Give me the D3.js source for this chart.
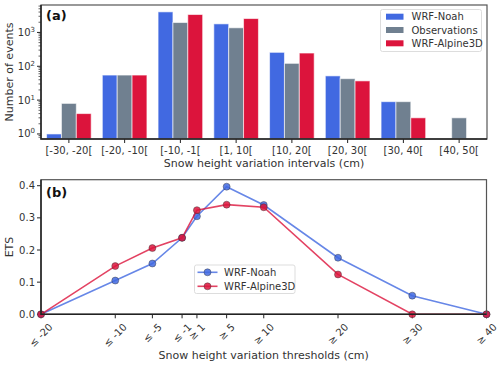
<!DOCTYPE html>
<html><head><meta charset="utf-8">
<script src="https://cdn.jsdelivr.net/npm/d3@7"></script>
<style>body{margin:0;background:#fff}svg{display:block;font-family:"DejaVu Sans",sans-serif}</style>
</head><body><svg id="c" width="500" height="365"></svg>
<script>
const intervals = ["[-30, -20[","[-20, -10[","[-10, -1[","[1, 10[","[10, 20[","[20, 30[","[30, 40[","[40, 50["];
const seriesNames = ["WRF-Noah","Observations","WRF-Alpine3D"];
const noahCounts = [1,55,4050,1790,258,52,9,0];
const obsCounts = [8,55,1960,1370,122,43,9,3];
const alpineCounts = [4,55,3380,2570,246,37,3,0];
const thresholds = [-20,-10,-5,-1,1,5,10,20,30,40];
const thresholdLabels = ["≤ -20","≤ -10","≤ -5","≤ -1","≥ 1","≥ 5","≥ 10","≥ 20","≥ 30","≥ 40"];
const noahETS = [0,0.105,0.158,0.238,0.305,0.397,0.340,0.176,0.058,0];
const alpineETS = [0,0.150,0.206,0.238,0.324,0.341,0.333,0.124,0,0];
const barColors = ["#4169e1","#708090","#dc143c"];
const lineColors = ["#4169e1","#dc143c"];
const yTicksETS = [0,0.1,0.2,0.3,0.4];

const svg = d3.select("#c");
const txt = "#333";
// ---------- Panel (a)
const A = {l:41,r:487,t:5,b:139};
const xa = d3.scaleLinear().domain([-0.5,7.5]).range([A.l,A.r]);
const ya = d3.scaleLog().domain([0.71,6460]).range([A.b,A.t]);
const ga = svg.append("g");
const allCounts=[noahCounts,obsCounts,alpineCounts];
const bw = 0.8/3;
allCounts.forEach((arr,s)=>{
  ga.selectAll(null).data(arr.map((v,i)=>({v,i}))).enter().filter(d=>d.v>0).append("rect")
    .attr("x",d=>xa(d.i-0.4+s*bw))
    .attr("width",xa(bw)-xa(0))
    .attr("y",d=>ya(d.v))
    .attr("height",d=>A.b-ya(d.v))
    .attr("fill",barColors[s]).attr("stroke","#fff").attr("stroke-opacity",0.6).attr("stroke-width",1);
});
// y axis ticks
const ga_ax = svg.append("g");
for(let e=0;e<=3;e++){
  const y=ya(Math.pow(10,e));
  ga_ax.append("line").attr("x1",A.l-4).attr("x2",A.l).attr("y1",y).attr("y2",y).attr("stroke","#222").attr("stroke-width",1);
  const t=ga_ax.append("text").attr("x",A.l-6).attr("y",y+3.5).attr("text-anchor","end").attr("font-size",10).attr("fill",txt);
  t.append("tspan").text("10");
  t.append("tspan").attr("dy",-4).attr("font-size",7).text(e);
}
for(let e=-1;e<=3;e++){
  for(let m=2;m<=9;m++){
    const v=m*Math.pow(10,e);
    if(v<0.71||v>6460) continue;
    const y=ya(v);
    ga_ax.append("line").attr("x1",A.l-2.5).attr("x2",A.l).attr("y1",y).attr("y2",y).attr("stroke","#222").attr("stroke-width",0.7);
  }
}
intervals.forEach((c,i)=>{
  const x=xa(i);
  ga_ax.append("line").attr("x1",x).attr("x2",x).attr("y1",A.b).attr("y2",A.b+4).attr("stroke","#222");
  ga_ax.append("text").attr("x",x).attr("y",A.b+15).attr("text-anchor","middle").attr("font-size",10).attr("fill",txt).text(c);
});
// spines
svg.append("rect").attr("x",A.l).attr("y",A.t).attr("width",A.r-A.l).attr("height",A.b-A.t).attr("fill","none").attr("stroke","#555").attr("stroke-width",1.2);
svg.append("path").attr("d",`M${A.l},${A.t}V${A.b}H${A.r}`).attr("fill","none").attr("stroke","#222").attr("stroke-width",1.5);
svg.append("text").attr("transform",`translate(13,${(A.t+A.b)/2}) rotate(-90)`).attr("text-anchor","middle").attr("font-size",11).attr("fill",txt).text("Number of events");
svg.append("text").attr("x",(A.l+A.r)/2).attr("y",A.b+28).attr("text-anchor","middle").attr("font-size",11).attr("fill",txt).text("Snow height variation intervals (cm)");
svg.append("text").attr("x",46).attr("y",20).attr("font-size",13).attr("font-weight","bold").attr("fill","#111").text("(a)");
// legend a
const la = svg.append("g");
la.append("rect").attr("x",380.5).attr("y",9.5).attr("width",101).attr("height",42).attr("rx",2).attr("fill","#fff").attr("fill-opacity",0.85).attr("stroke","#ddd");
seriesNames.forEach((n,i)=>{
  const y=16.7+i*13.3;
  la.append("rect").attr("x",386).attr("y",y-3).attr("width",17.5).attr("height",6).attr("fill",barColors[i]);
  la.append("text").attr("x",411.5).attr("y",y+3.5).attr("font-size",10).attr("fill",txt).text(n);
});

// ---------- Panel (b)
const B = {l:41,r:486.5,t:179.7,b:314.3};
const xb = d3.scaleLinear().domain([-20,40]).range([B.l,B.r]);
const yb = d3.scaleLinear().domain([0,0.4187]).range([B.b,B.t]);
const gb = svg.append("g");
yTicksETS.forEach(v=>{
  const y=yb(v);
  gb.append("line").attr("x1",B.l-4).attr("x2",B.l).attr("y1",y).attr("y2",y).attr("stroke","#222");
  gb.append("text").attr("x",B.l-6).attr("y",y+3.5).attr("text-anchor","end").attr("font-size",10).attr("fill",txt).text(v.toFixed(1));
});
thresholds.forEach((t,i)=>{
  const x=xb(t);
  gb.append("line").attr("x1",x).attr("x2",x).attr("y1",B.b).attr("y2",B.b+4).attr("stroke","#222");
  const tx=gb.append("text").attr("text-anchor","middle").attr("dominant-baseline","central").attr("font-size",10).attr("fill",txt).text(thresholdLabels[i]);
  const w=tx.node().getComputedTextLength();
  const h=10;
  const bh=(w+h)*Math.SQRT1_2;
  tx.attr("transform",`translate(${x},${B.b+7.5+bh/2}) rotate(-45)`);
});
const gl = svg.append("g");
const defs = svg.append("defs");
defs.append("clipPath").attr("id","cb").append("rect").attr("x",B.l-6).attr("y",B.t-6).attr("width",B.r-B.l+12).attr("height",B.b-B.t+12);
[noahETS,alpineETS].forEach((arr,s)=>{
  const line=d3.line().x((d,i)=>xb(thresholds[i])).y(d=>yb(d));
  gl.append("path").datum(arr).attr("d",line).attr("fill","none").attr("stroke",lineColors[s]).attr("stroke-opacity",0.8).attr("stroke-width",1.6);
  gl.selectAll(null).data(arr).enter().append("circle").attr("cx",(d,i)=>xb(thresholds[i])).attr("cy",d=>yb(d)).attr("r",3.5)
    .attr("fill",lineColors[s]).attr("fill-opacity",0.85).attr("stroke","#333").attr("stroke-opacity",0.6).attr("stroke-width",0.7);
});
gl.attr("clip-path","url(#cb)");
svg.append("rect").attr("x",B.l).attr("y",B.t).attr("width",B.r-B.l).attr("height",B.b-B.t).attr("fill","none").attr("stroke","#555").attr("stroke-width",1.2);
svg.append("path").attr("d",`M${B.l},${B.t}V${B.b}H${B.r}`).attr("fill","none").attr("stroke","#222").attr("stroke-width",1.5);
svg.append("text").attr("transform",`translate(13,${(B.t+B.b)/2}) rotate(-90)`).attr("text-anchor","middle").attr("font-size",11).attr("fill",txt).text("ETS");
svg.append("text").attr("x",(B.l+B.r)/2).attr("y",359).attr("text-anchor","middle").attr("font-size",11).attr("fill",txt).text("Snow height variation thresholds (cm)");
svg.append("text").attr("x",46).attr("y",197).attr("font-size",13).attr("font-weight","bold").attr("fill","#111").text("(b)");
// legend b
const lb = svg.append("g");
lb.append("rect").attr("x",194.5).attr("y",265).attr("width",100.5).attr("height",28.5).attr("rx",2).attr("fill","#fff").attr("fill-opacity",0.85).attr("stroke","#ddd");
["WRF-Noah","WRF-Alpine3D"].forEach((n,i)=>{
  const y=272.3+i*14;
  lb.append("line").attr("x1",197.5).attr("x2",217.5).attr("y1",y).attr("y2",y).attr("stroke",lineColors[i]).attr("stroke-opacity",0.8).attr("stroke-width",1.6);
  lb.append("circle").attr("cx",207.5).attr("cy",y).attr("r",3.5).attr("fill",lineColors[i]).attr("fill-opacity",0.85).attr("stroke","#333").attr("stroke-opacity",0.6).attr("stroke-width",0.7);
  lb.append("text").attr("x",224).attr("y",y+3.5).attr("font-size",10).attr("fill",txt).text(n);
});
</script></body></html>
